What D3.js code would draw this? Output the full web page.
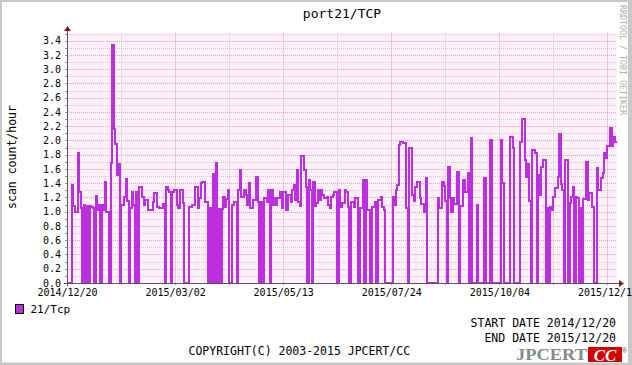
<!DOCTYPE html>
<html>
<head>
<meta charset="utf-8">
<script src="https://cdn.jsdelivr.net/npm/d3@7"></script>
<style>
body { margin: 0; background: #fff; }
text { font-family: "DejaVu Sans Mono", monospace; }
</style>
</head>
<body>
<div id="chart"></div>
<script>
var startDay = "2014/12/20";
var endDay = "2015/12/20";

var dateLabels = ["2014/12/20", "2015/03/02", "2015/05/13", "2015/07/24", "2015/10/04", "2015/12/15"];

var yTickLabels = ["0.0", "0.2", "0.4", "0.6", "0.8", "1.0", "1.2", "1.4", "1.6", "1.8",
  "2.0", "2.2", "2.4", "2.6", "2.8", "3.0", "3.2", "3.4"];

// daily scan count/hour, one value per day from 2014/12/20
var port21 = [
  0, 0, 0, 1.37, 1.08, 1.0, 1.0, 1.82, 1.27, 1.05,
  0, 1.1, 0, 1.08, 0, 1.08, 1.07, 1.05, 0, 1.22,
  1.02, 1.09, 0, 1.09, 1.02, 1.41, 1.0, 1.0, 0, 1.68,
  3.34, 2.16, 1.95, 1.52, 1.67, 0, 1.09, 1.1, 1.2, 1.46,
  1.15, 0, 1.05, 1.28, 1.1, 0, 1.28, 0, 1.35, 1.35,
  1.21, 1.09, 1.16, 1.16, 1.02, 1.02, 1.02, 1.14, 1.26, 1.26,
  1.07, 1.05, 1.05, 1.05, 1.11, 0, 1.34, 1.3, 1.28, 0,
  1.27, 1.3, 1.3, 1.1, 1.05, 1.31, 1.31, 1.12, 0, 0,
  0, 1.07, 1.07, 1.09, 1.09, 1.34, 1.34, 1.05, 1.19, 1.4,
  1.42, 1.42, 1.14, 1.14, 0, 1.05, 0, 1.53, 0, 1.68,
  0, 1.04, 0, 1.04, 1.21, 1.07, 1.18, 1.3, 0, 0,
  1.09, 1.13, 1.13, 0, 1.3, 1.58, 1.21, 1.21, 1.3, 1.23,
  1.09, 1.4, 1.05, 1.05, 1.16, 1.16, 1.49, 1.14, 0, 1.14,
  0, 1.19, 1.19, 1.14, 1.3, 0, 1.3, 1.09, 1.19, 1.09,
  1.19, 1.19, 1.27, 1.05, 1.27, 1.27, 1.03, 1.23, 1.23, 1.14,
  1.3, 1.37, 1.16, 1.59, 1.14, 1.08, 1.78, 1.78, 1.58, 1.35,
  0, 1.44, 1.3, 0, 1.41, 1.08, 1.12, 1.3, 1.16, 1.3,
  1.23, 1.19, 1.19, 1.21, 1.09, 1.05, 1.2, 1.23, 1.27, 1.27,
  0, 1.3, 1.07, 1.12, 1.12, 1.31, 1.28, 1.07, 0, 1.14,
  1.14, 1.06, 1.19, 1.19, 0, 1.05, 1.05, 1.44, 0, 1.44,
  1.03, 1.03, 0, 1.07, 1.07, 1.14, 0, 1.16, 1.16, 1.21,
  1.07, 1.03, 0, 0, 0, 0, 0, 1.21, 1.09, 1.31,
  1.37, 1.94, 1.98, 1.98, 1.96, 1.96, 1.05, 0, 1.89, 1.89,
  1.23, 1.15, 1.35, 1.42, 1.42, 1.19, 1.11, 1.11, 1.0, 1.47,
  0, 0, 0, 0, 0, 0, 0, 1.19, 1.05, 1.05,
  1.42, 1.36, 1.15, 0, 1.63, 1.19, 1.0, 1.19, 1.11, 1.11,
  1.56, 0, 1.08, 1.08, 1.44, 1.28, 1.28, 1.54, 0, 2.03,
  0, 0, 0, 1.09, 0, 0, 0, 0, 1.47, 0,
  0, 0, 2.0, 0, 0, 0, 0, 0, 0, 2.0,
  1.4, 0, 0, 0, 0, 2.05, 2.05, 1.89, 0, 0,
  0, 0, 1.98, 2.3, 2.3, 1.73, 1.49, 1.67, 1.15, 0,
  1.87, 1.87, 1.82, 0, 1.51, 1.23, 1.63, 1.72, 1.72, 0,
  1.05, 0, 1.07, 1.03, 1.2, 1.33, 1.33, 1.49, 2.09, 1.39,
  1.3, 0, 1.72, 1.72, 0, 1.12, 1.21, 1.35, 0, 1.2,
  1.19, 0, 1.05, 0, 1.18, 1.18, 1.7, 1.17, 1.26, 1.26,
  1.07, 0, 0, 1.62, 1.3, 1.3, 1.47, 1.54, 1.83, 1.75,
  1.92, 1.92, 2.18, 1.92, 2.05, 1.98
];

var width = 632, height = 365;
var lineColor = "#bd2ee0";

var parse = d3.utcParse("%Y/%m/%d");
var t0 = parse(startDay), t1 = parse(endDay);

var data = port21.map(function(v, i) {
  return { date: d3.utcDay.offset(t0, i), value: v };
});

var svg = d3.select("#chart").append("svg")
  .attr("width", width)
  .attr("height", height);

// grey frame
svg.append("rect").attr("width", width).attr("height", height).attr("fill", "#c8c8c8");
svg.append("rect").attr("x", 2).attr("y", 2)
  .attr("width", width - 6).attr("height", height - 4.5)
  .attr("fill", "#fff");

var x = d3.scaleUtc().domain([t0, t1]).range([67, 615]);
var y = d3.scaleLinear().domain([0, 3.5]).range([283, 33.5]);

var plotRight = 617;

svg.append("rect")
  .attr("x", x.range()[0]).attr("y", y(3.5))
  .attr("width", plotRight - x.range()[0]).attr("height", y(0) - y(3.5))
  .attr("fill", "#fff0fc");

// horizontal grid, minor every 0.1, major on labels
var hVals = d3.range(1, 36).map(function(i) { return i / 10; });
svg.append("g").selectAll("line")
  .data(hVals)
  .enter().append("line")
  .attr("x1", x.range()[0]).attr("x2", plotRight)
  .attr("y1", function(d) { return Math.round(y(d)) + 0.5; })
  .attr("y2", function(d) { return Math.round(y(d)) + 0.5; })
  .attr("stroke", function(d, i) { return (i % 2 == 1) ? "rgba(225,80,90,0.5)" : "rgba(175,160,170,0.5)"; })
  .attr("stroke-width", 1)
  .attr("stroke-dasharray", "1,1");

// vertical grid
var labelDates = dateLabels.map(parse);
var minorDates = d3.pairs(labelDates).map(function(p) {
  return new Date((+p[0] + +p[1]) / 2);
});

svg.append("g").selectAll("line")
  .data(minorDates)
  .enter().append("line")
  .attr("x1", function(d) { return Math.round(x(d)) + 0.5; })
  .attr("x2", function(d) { return Math.round(x(d)) + 0.5; })
  .attr("y1", y(3.5)).attr("y2", y(0))
  .attr("stroke", "rgba(175,160,170,0.5)")
  .attr("stroke-dasharray", "1,1");

svg.append("g").selectAll("line")
  .data(labelDates.slice(1))
  .enter().append("line")
  .attr("x1", function(d) { return Math.round(x(d)) + 0.5; })
  .attr("x2", function(d) { return Math.round(x(d)) + 0.5; })
  .attr("y1", y(3.5)).attr("y2", y(0))
  .attr("stroke", "rgba(225,80,90,0.5)")
  .attr("stroke-dasharray", "1,1");

// the data line; the last day is held until the end of the plot
var line = d3.line()
  .curve(d3.curveStepAfter)
  .x(function(d) { return x(d.date); })
  .y(function(d) { return y(d.value); });

var last = data[data.length - 1];
svg.append("path")
  .datum(data.concat([{ date: d3.utcDay.offset(last.date, 1), value: last.value }]))
  .attr("fill", "none")
  .attr("stroke", lineColor)
  .attr("stroke-width", 2)
  .attr("stroke-linejoin", "miter")
  .attr("shape-rendering", "crispEdges")
  .attr("d", line);

// axes
var xAxis = d3.axisBottom(x)
  .tickValues(labelDates)
  .tickFormat(d3.utcFormat("%Y/%m/%d"))
  .tickSize(0)
  .tickPadding(6);

var gx = svg.append("g")
  .attr("transform", "translate(0," + y(0) + ")")
  .call(xAxis);
gx.select(".domain").remove();
gx.selectAll("text")
  .style("font-family", "DejaVu Sans Mono")
  .attr("font-size", 10)
  .attr("fill", "#000");

var yAxis = d3.axisLeft(y)
  .tickValues(yTickLabels.map(Number))
  .tickFormat(d3.format(".1f"))
  .tickSize(0)
  .tickPadding(6);

var gy = svg.append("g")
  .attr("transform", "translate(" + x.range()[0] + ",0)")
  .call(yAxis);
gy.select(".domain").remove();
gy.selectAll("text")
  .style("font-family", "DejaVu Sans Mono")
  .attr("font-size", 10)
  .attr("fill", "#000");

// small tick marks on the axes
svg.append("g").selectAll("line")
  .data(labelDates.concat(minorDates))
  .enter().append("line")
  .attr("x1", function(d) { return Math.round(x(d)) + 0.5; })
  .attr("x2", function(d) { return Math.round(x(d)) + 0.5; })
  .attr("y1", y(0)).attr("y2", y(0) + 2)
  .attr("stroke", "#999");

svg.append("g").selectAll("line")
  .data(hVals)
  .enter().append("line")
  .attr("x1", x.range()[0] - 2).attr("x2", x.range()[0])
  .attr("y1", function(d) { return Math.round(y(d)) + 0.5; })
  .attr("y2", function(d) { return Math.round(y(d)) + 0.5; })
  .attr("stroke", "#999");

// axis lines with arrows
svg.append("line")
  .attr("x1", 64).attr("x2", 620)
  .attr("y1", y(0) + 0.5).attr("y2", y(0) + 0.5)
  .attr("stroke", "#555");
svg.append("line")
  .attr("x1", x.range()[0] + 0.5).attr("x2", x.range()[0] + 0.5)
  .attr("y1", y(0) + 3).attr("y2", 29)
  .attr("stroke", "#555");
svg.append("path")
  .attr("d", "M619,280 L624,283.5 L619,287 Z")
  .attr("fill", "#8b1a1a");
svg.append("path")
  .attr("d", "M64,31 L67.5,26 L71,31 Z")
  .attr("fill", "#8b1a1a");

// texts
svg.append("text")
  .attr("x", 342).attr("y", 17.5)
  .attr("text-anchor", "middle")
  .attr("font-size", 13)
  .text("port21/TCP");

svg.append("text")
  .attr("transform", "translate(15.5,157) rotate(-90)")
  .attr("text-anchor", "middle")
  .attr("font-size", 11.5)
  .text("scan count/hour");

svg.append("text")
  .attr("transform", "translate(620,5) rotate(90)")
  .attr("font-size", 8.3)
  .attr("fill", "#b0b0b0")
  .text("RRDTOOL / TOBI OETIKER");

// legend
svg.append("rect")
  .attr("x", 15.5).attr("y", 304.5)
  .attr("width", 8).attr("height", 9)
  .attr("fill", lineColor)
  .attr("stroke", "#000");
svg.append("text")
  .attr("x", 30.5).attr("y", 313)
  .attr("font-size", 11)
  .text("21/Tcp");

svg.append("text")
  .attr("x", 616).attr("y", 327)
  .attr("text-anchor", "end")
  .attr("font-size", 11.5)
  .text("START DATE " + startDay);
svg.append("text")
  .attr("x", 616).attr("y", 341.5)
  .attr("text-anchor", "end")
  .attr("font-size", 11.5)
  .text("END DATE " + endDay);
svg.append("text")
  .attr("x", 188.5).attr("y", 355)
  .attr("font-size", 11.5)
  .text("COPYRIGHT(C) 2003-2015 JPCERT/CC");

// logo
svg.append("text")
  .attr("x", 516).attr("y", 360)
  .style("font-family", "'Liberation Serif', serif")
  .style("font-weight", "bold")
  .attr("font-size", 17)
  .attr("textLength", 71)
  .attr("lengthAdjust", "spacingAndGlyphs")
  .attr("fill", "#858c8c")
  .text("JPCERT");
svg.append("rect")
  .attr("x", 588).attr("y", 347)
  .attr("width", 34).attr("height", 15)
  .attr("fill", "#d40000");
svg.append("text")
  .attr("x", 605).attr("y", 360.5)
  .attr("text-anchor", "middle")
  .style("font-family", "'Liberation Serif', serif")
  .style("font-weight", "bold")
  .style("font-style", "italic")
  .attr("font-size", 17)
  .attr("fill", "#fff")
  .text("CC");
svg.append("text")
  .attr("x", 622).attr("y", 353)
  .style("font-family", "'Liberation Sans', sans-serif")
  .attr("font-size", 7)
  .attr("fill", "#a33")
  .text("®");
</script>
</body>
</html>
